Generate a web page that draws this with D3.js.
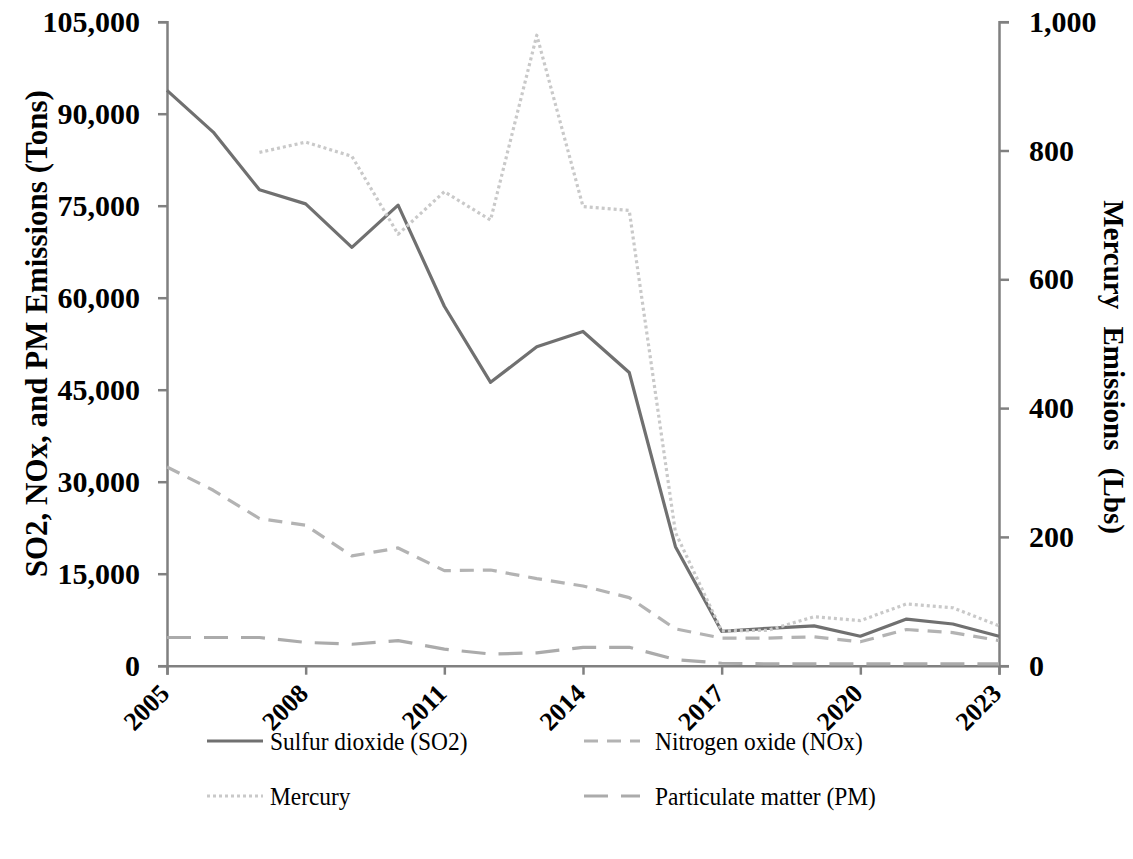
<!DOCTYPE html>
<html><head><meta charset="utf-8">
<script src="https://cdn.jsdelivr.net/npm/d3@7"></script>
<style>
html,body{margin:0;padding:0;background:#fff;}
svg{display:block;font-family:"Liberation Serif","Times New Roman",serif;}
</style></head>
<body>
<svg id="chart" width="1133" height="859"></svg>
<script>
const years = [2005,2006,2007,2008,2009,2010,2011,2012,2013,2014,2015,2016,2017,2018,2019,2020,2021,2022,2023];
const so2 = [93800,87000,77600,75300,68200,75100,58600,46200,52000,54500,47800,19400,5600,6100,6500,4800,7600,6800,4800];
const nox = [32400,28600,24000,22900,17900,19200,15500,15600,14200,13000,11100,6000,4500,4500,4700,3900,5900,5400,4100];
const pm = [4600,4600,4600,3800,3500,4100,2700,1900,2100,3000,3000,1000,400,300,300,300,300,300,300];
const mercury = [null,null,797,813,791,670,736,692,979,713,707,207,54,55,76,70,96,90,62];
const leftTicks = [0,15000,30000,45000,60000,75000,90000,105000];
const rightTicks = [0,200,400,600,800,1000];
const xTicks = [2005,2008,2011,2014,2017,2020,2023];
const leftTitle = "SO2, NOx, and PM Emissions (Tons)";
const rightTitle = "Mercury Emissions (Lbs)";
const seriesNames = ["Sulfur dioxide (SO2)","Nitrogen oxide (NOx)","Mercury","Particulate matter (PM)"];

const svg = d3.select("#chart");
const L = 167, R = 999, T = 21.7, B = 665.7;
const axisColor = "#808080";

const x = d3.scaleLinear().domain([2005,2023]).range([L,R]);
const yL = d3.scaleLinear().domain([0,105000]).range([B,T]);
const yR = d3.scaleLinear().domain([0,1000]).range([B,T]);

const styles = [
  {name:seriesNames[0], data:so2, scale:yL, color:"#707070", dash:null},
  {name:seriesNames[1], data:nox, scale:yL, color:"#b3b3b3", dash:"14,9"},
  {name:seriesNames[2], data:mercury, scale:yR, color:"#c9c9c9", dash:"3,3"},
  {name:seriesNames[3], data:pm, scale:yL, color:"#ababab", dash:"24,13"}
];

// axes
const gL = svg.append("g").attr("transform",`translate(${L},0)`)
  .call(d3.axisLeft(yL).tickValues(leftTicks).tickSize(9).tickPadding(18).tickFormat(d3.format(",")));
const gR = svg.append("g").attr("transform",`translate(${R},0)`)
  .call(d3.axisRight(yR).tickValues(rightTicks).tickSize(10).tickPadding(20).tickFormat(d3.format(",")));
const gB = svg.append("g").attr("transform",`translate(0,${B})`)
  .call(d3.axisBottom(x).tickValues(xTicks).tickSize(9).tickFormat(d3.format("d")));

[gL,gR,gB].forEach(g=>{
  g.select(".domain").attr("stroke",axisColor).attr("stroke-width",2.5);
  g.selectAll(".tick line").attr("stroke",axisColor).attr("stroke-width",2.5);
  g.selectAll("text").attr("font-family","Liberation Serif").attr("font-weight","bold")
    .attr("font-size",30).attr("fill","#000");
});
gB.selectAll(".tick text")
  .attr("font-size",26)
  .attr("text-anchor","end")
  .attr("dy","0.35em")
  .attr("y",0)
  .attr("transform","translate(-3,23) rotate(-45)");

// titles
svg.append("text")
  .attr("transform",`translate(36,${(T+B)/2-10}) rotate(-90)`)
  .attr("text-anchor","middle").attr("dominant-baseline","central")
  .attr("font-weight","bold").attr("font-size",31).text(leftTitle);
svg.append("text")
  .attr("transform",`translate(1114,367) rotate(90)`)
  .attr("text-anchor","middle").attr("dominant-baseline","central")
  .attr("font-weight","bold").attr("font-size",29).attr("word-spacing",10).text(rightTitle);

// lines
const plot = svg.append("g");
styles.forEach(s=>{
  const line = d3.line()
    .defined((d)=>d!==null)
    .x((d,i)=>x(years[i]))
    .y(d=>s.scale(d));
  plot.append("path")
    .datum(s.data)
    .attr("fill","none")
    .attr("stroke",s.color)
    .attr("stroke-width",3.2)
    .attr("stroke-dasharray",s.dash)
    .attr("stroke-linejoin","round")
    .attr("d",line);
});

// legend
const legPos = [[207,741],[584,741],[207,796],[584,796]];
styles.forEach((s,i)=>{
  const [lx,ly] = legPos[i];
  const g = svg.append("g").attr("transform",`translate(${lx},${ly})`);
  g.append("line").attr("x1",0).attr("x2",56).attr("y1",0).attr("y2",0)
    .attr("stroke",s.color).attr("stroke-width",3.2).attr("stroke-dasharray",s.dash);
  g.append("text")
    .attr("transform",`translate(${i%2===0 ? 63 : 71},0) scale(0.9,1)`)
    .attr("dy","0.35em")
    .attr("font-size",26).attr("fill","#000").text(s.name);
});
</script>
</body></html>
